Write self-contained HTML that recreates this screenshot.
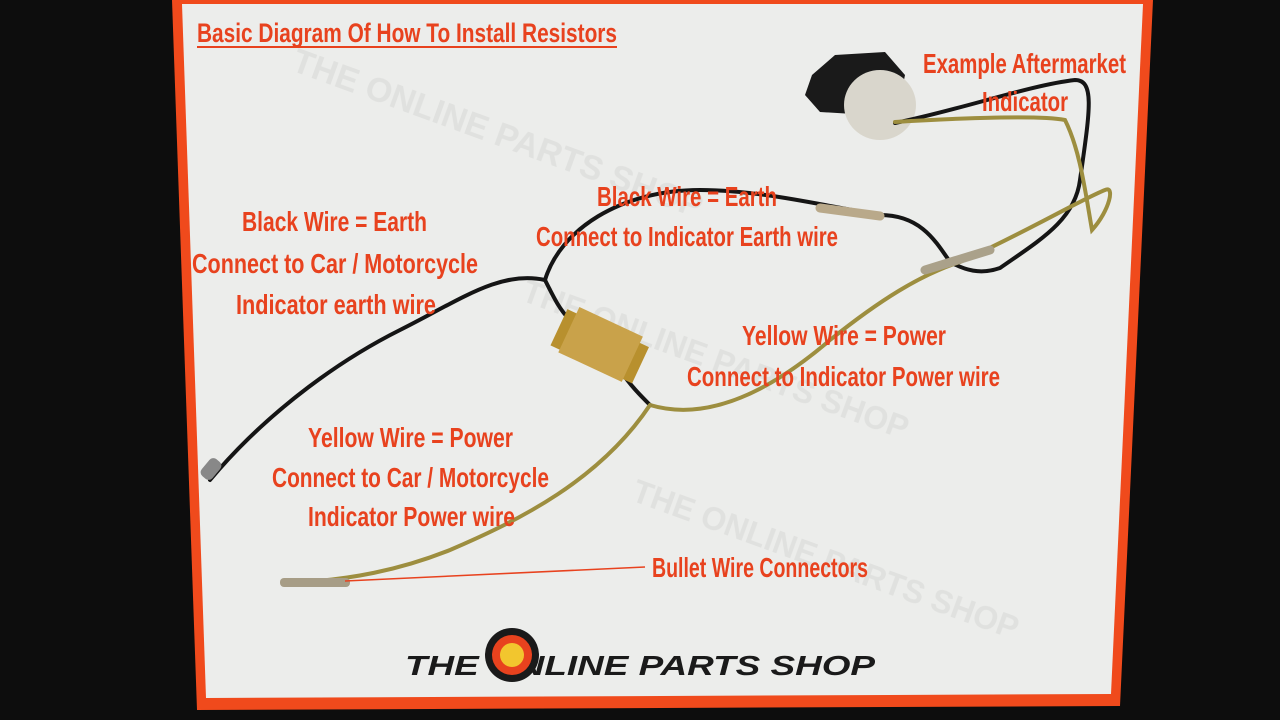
<!DOCTYPE html>
<html><head><meta charset="utf-8"><style>
html,body{margin:0;padding:0;background:#0c0c0c;width:1280px;height:720px;overflow:hidden}
svg{display:block}
text{font-family:"Liberation Sans Narrow","Liberation Sans",sans-serif;fill:#e8421e}
</style></head><body>
<svg width="1280" height="720" viewBox="0 0 1280 720">
<rect width="1280" height="720" fill="#0d0d0d"/>
<polygon points="172,0 1153,0 1120,706 197,710" fill="#f04a1c"/>
<polygon points="182,4 1143,4 1111,694 206,698" fill="#ecedeb"/>
<!-- watermark -->
<g opacity="0.09" font-family="Liberation Sans" font-weight="bold">
<text x="290" y="70" transform="rotate(20 290 70)" font-size="34" style="fill:#666">THE ONLINE PARTS SHOP</text>
<text x="520" y="300" transform="rotate(20 520 300)" font-size="32" style="fill:#666">THE ONLINE PARTS SHOP</text>
<text x="630" y="500" transform="rotate(20 630 500)" font-size="32" style="fill:#666">THE ONLINE PARTS SHOP</text>
</g>
<!-- title -->
<text x="197" y="42" font-size="27" font-weight="bold" textLength="420" lengthAdjust="spacingAndGlyphs">Basic Diagram Of How To Install Resistors</text>
<line x1="197" y1="47" x2="617" y2="47" stroke="#e8421e" stroke-width="2"/>
<!-- indicator -->
<path d="M812,75 L835,55 L885,52 L905,75 L898,110 L870,115 L820,112 L805,95 Z" fill="#1a1a1a"/>
<ellipse cx="880" cy="105" rx="36" ry="35" fill="#d9d6cc"/>
<!-- wires -->
<g fill="none" stroke-linecap="round">
<path d="M895,123 C960,110 1030,85 1075,80 C1095,80 1090,110 1080,180 C1075,220 1040,240 1000,268 C980,275 965,270 950,262" stroke="#151515" stroke-width="4"/>
<path d="M895,122 C960,118 1040,115 1065,120 C1080,150 1085,190 1092,230 C1110,210 1115,185 1105,190 C1080,200 1030,230 960,262 C920,275 880,300 830,340 C760,400 700,420 650,405" stroke="#9d8e3f" stroke-width="4"/>
<path d="M950,262 C935,240 920,215 880,215 C820,205 760,190 700,190 C620,190 560,230 545,280" stroke="#151515" stroke-width="4"/>
<path d="M545,280 C500,270 460,300 400,330 C330,365 260,420 210,480" stroke="#151515" stroke-width="4"/>
<path d="M545,280 C555,300 560,310 570,320 M620,370 C630,385 640,395 650,405" stroke="#151515" stroke-width="4"/>
<path d="M650,405 C600,480 520,520 450,550 C400,570 350,580 290,583" stroke="#9d8e3f" stroke-width="4"/>
<path d="M820,208 L880,216" stroke="#b9a98a" stroke-width="9"/>
<path d="M925,270 L990,250" stroke="#aaa18a" stroke-width="9"/>
</g>
<rect x="200" y="462" width="22" height="14" rx="5" transform="rotate(-50 211 469)" fill="#888"/>
<rect x="280" y="578" width="70" height="9" rx="4" fill="#a79d86"/>
<!-- resistor -->
<g transform="rotate(25 597 345)">
<rect x="555" y="325" width="90" height="40" fill="#b8902e"/>
<rect x="565" y="318" width="70" height="50" fill="#c9a24a"/>
</g>
<!-- labels -->
<g font-size="28" font-weight="bold">
<text x="923" y="73" textLength="203" lengthAdjust="spacingAndGlyphs">Example Aftermarket</text>
<text x="982" y="111" textLength="86" lengthAdjust="spacingAndGlyphs">Indicator</text>
<text x="597" y="206" textLength="180" lengthAdjust="spacingAndGlyphs">Black Wire = Earth</text>
<text x="536" y="246" textLength="302" lengthAdjust="spacingAndGlyphs">Connect to Indicator Earth wire</text>
<text x="242" y="231" textLength="185" lengthAdjust="spacingAndGlyphs">Black Wire = Earth</text>
<text x="192" y="273" textLength="286" lengthAdjust="spacingAndGlyphs">Connect to Car / Motorcycle</text>
<text x="236" y="314" textLength="200" lengthAdjust="spacingAndGlyphs">Indicator earth wire</text>
<text x="742" y="345" textLength="204" lengthAdjust="spacingAndGlyphs">Yellow Wire = Power</text>
<text x="687" y="386" textLength="313" lengthAdjust="spacingAndGlyphs">Connect to Indicator Power wire</text>
<text x="308" y="447" textLength="205" lengthAdjust="spacingAndGlyphs">Yellow Wire = Power</text>
<text x="272" y="487" textLength="277" lengthAdjust="spacingAndGlyphs">Connect to Car / Motorcycle</text>
<text x="308" y="526" textLength="207" lengthAdjust="spacingAndGlyphs">Indicator Power wire</text>
<text x="652" y="577" textLength="216" lengthAdjust="spacingAndGlyphs">Bullet Wire Connectors</text>
</g>
<line x1="345" y1="581" x2="645" y2="567" stroke="#e8421e" stroke-width="1.5"/>
<!-- logo -->
<text x="405" y="675" font-family="Liberation Sans" font-weight="bold" font-style="italic" font-size="28" style="fill:#1a1a1a" textLength="470" lengthAdjust="spacingAndGlyphs">THE    ONLINE PARTS SHOP</text>
<circle cx="512" cy="655" r="27" fill="#1a1a1a"/>
<circle cx="512" cy="655" r="20" fill="#e8421e"/>
<circle cx="512" cy="655" r="12" fill="#f2c62e"/>
</svg>
</body></html>
